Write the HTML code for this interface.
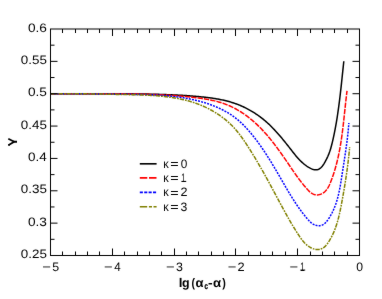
<!DOCTYPE html>
<html><head><meta charset="utf-8"><title>chart</title>
<style>html,body{margin:0;padding:0;background:#fff;}svg{display:block;}</style></head>
<body>
<svg width="382" height="299" viewBox="0 0 382 299">
<defs><filter id="soft" color-interpolation-filters="sRGB" x="0" y="0" width="382" height="299" filterUnits="userSpaceOnUse"><feConvolveMatrix order="3" kernelMatrix="0.01 0.04 0.01 0.04 0.8 0.04 0.01 0.04 0.01"/></filter></defs>
<g filter="url(#soft)">
<rect width="382" height="299" fill="#ffffff"/>
<path d="M50.51,93.65 L51.53,93.66 L52.55,93.67 L53.57,93.68 L54.59,93.69 L55.62,93.70 L56.64,93.71 L57.66,93.71 L58.68,93.72 L59.70,93.73 L60.72,93.73 L61.74,93.74 L62.76,93.75 L63.78,93.75 L64.80,93.76 L65.83,93.76 L66.85,93.76 L67.87,93.77 L68.89,93.77 L69.91,93.77 L70.93,93.78 L71.95,93.78 L72.98,93.78 L74.00,93.78 L75.02,93.78 L76.04,93.78 L77.06,93.79 L78.09,93.79 L79.11,93.79 L80.13,93.79 L81.15,93.79 L82.18,93.79 L83.20,93.79 L84.22,93.79 L85.24,93.79 L86.27,93.78 L87.29,93.78 L88.31,93.78 L89.33,93.78 L90.36,93.78 L91.38,93.78 L92.40,93.78 L93.42,93.78 L94.45,93.78 L95.47,93.78 L96.49,93.77 L97.52,93.77 L98.54,93.77 L99.56,93.77 L100.58,93.77 L101.61,93.77 L102.63,93.77 L103.65,93.77 L104.68,93.77 L105.70,93.77 L106.72,93.77 L107.74,93.77 L108.77,93.77 L109.79,93.77 L110.81,93.77 L111.84,93.77 L112.86,93.77 L113.88,93.78 L114.91,93.78 L115.93,93.78 L116.95,93.78 L117.97,93.79 L119.00,93.79 L120.02,93.79 L121.04,93.80 L122.06,93.80 L123.09,93.81 L124.11,93.81 L125.13,93.82 L126.15,93.83 L127.18,93.83 L128.20,93.84 L129.22,93.85 L130.24,93.86 L131.27,93.87 L132.29,93.87 L133.31,93.88 L134.33,93.90 L135.36,93.91 L136.38,93.92 L137.40,93.93 L138.42,93.94 L139.44,93.96 L140.47,93.97 L141.49,93.99 L142.51,94.00 L143.53,94.02 L144.55,94.04 L145.57,94.05 L146.60,94.07 L147.62,94.09 L148.64,94.11 L149.66,94.13 L150.68,94.16 L151.70,94.18 L152.72,94.20 L153.74,94.23 L154.76,94.25 L155.78,94.28 L156.80,94.30 L157.83,94.33 L158.85,94.36 L159.87,94.39 L160.89,94.42 L161.91,94.45 L162.93,94.49 L163.95,94.52 L164.97,94.56 L165.99,94.59 L167.00,94.63 L168.02,94.67 L169.04,94.71 L170.06,94.75 L171.08,94.79 L172.10,94.83 L173.12,94.88 L174.14,94.93 L175.16,94.97 L176.18,95.02 L177.20,95.07 L178.22,95.13 L179.24,95.18 L180.26,95.24 L181.28,95.30 L182.29,95.36 L183.31,95.42 L184.33,95.48 L185.35,95.55 L186.37,95.61 L187.39,95.68 L188.41,95.75 L189.43,95.83 L190.45,95.90 L191.47,95.98 L192.49,96.06 L193.51,96.14 L194.53,96.23 L195.55,96.32 L196.57,96.40 L197.59,96.50 L198.61,96.59 L199.63,96.69 L200.65,96.79 L201.68,96.89 L202.70,96.99 L203.72,97.10 L204.74,97.21 L205.76,97.33 L206.78,97.45 L207.80,97.57 L208.82,97.70 L209.83,97.83 L210.85,97.97 L211.87,98.11 L212.88,98.26 L213.90,98.41 L214.91,98.57 L215.92,98.74 L216.93,98.91 L217.94,99.09 L218.94,99.27 L219.95,99.47 L220.95,99.67 L221.95,99.87 L222.95,100.09 L223.95,100.31 L224.94,100.54 L225.93,100.78 L226.92,101.03 L227.91,101.29 L228.89,101.55 L229.87,101.83 L230.85,102.12 L231.82,102.41 L232.79,102.72 L233.76,103.04 L234.72,103.36 L235.69,103.70 L236.64,104.05 L237.60,104.41 L238.55,104.78 L239.49,105.16 L240.43,105.55 L241.37,105.96 L242.31,106.37 L243.23,106.79 L244.16,107.23 L245.08,107.67 L245.99,108.13 L246.90,108.59 L247.81,109.07 L248.71,109.55 L249.61,110.05 L250.50,110.55 L251.38,111.06 L252.26,111.58 L253.13,112.12 L254.00,112.66 L254.86,113.21 L255.72,113.77 L256.57,114.34 L257.42,114.91 L258.26,115.50 L259.09,116.10 L259.91,116.70 L260.73,117.31 L261.54,117.93 L262.35,118.56 L263.15,119.20 L263.94,119.84 L264.73,120.50 L265.50,121.16 L266.27,121.83 L267.04,122.51 L267.80,123.19 L268.55,123.88 L269.29,124.58 L270.03,125.28 L270.76,126.00 L271.48,126.71 L272.20,127.44 L272.92,128.17 L273.63,128.90 L274.33,129.64 L275.03,130.39 L275.72,131.14 L276.41,131.89 L277.09,132.66 L277.77,133.42 L278.45,134.19 L279.12,134.96 L279.79,135.74 L280.45,136.52 L281.11,137.30 L281.77,138.08 L282.42,138.87 L283.07,139.66 L283.72,140.46 L284.37,141.25 L285.01,142.05 L285.65,142.85 L286.29,143.65 L286.92,144.45 L287.56,145.25 L288.19,146.06 L288.82,146.86 L289.45,147.66 L290.08,148.47 L290.71,149.27 L291.34,150.08 L291.97,150.88 L292.59,151.68 L293.22,152.48 L293.85,153.28 L294.49,154.07 L295.13,154.86 L295.78,155.65 L296.43,156.42 L297.10,157.20 L297.77,157.96 L298.45,158.71 L299.15,159.46 L299.86,160.20 L300.58,160.92 L301.32,161.64 L302.07,162.34 L302.84,163.03 L303.63,163.71 L304.44,164.37 L305.27,165.02 L306.12,165.65 L306.99,166.26 L307.88,166.85 L308.80,167.42 L309.72,167.94 L310.65,168.42 L311.59,168.84 L312.53,169.19 L313.47,169.48 L314.40,169.69 L315.31,169.80 L316.22,169.82 L317.10,169.74 L317.96,169.54 L318.79,169.22 L319.59,168.77 L320.36,168.20 L321.10,167.53 L321.81,166.77 L322.49,165.93 L323.14,165.04 L323.76,164.10 L324.35,163.13 L324.92,162.15 L325.46,161.17 L325.97,160.20 L326.46,159.24 L326.92,158.31 L327.36,157.38 L327.79,156.46 L328.19,155.54 L328.57,154.62 L328.94,153.69 L329.29,152.76 L329.63,151.82 L329.95,150.87 L330.26,149.91 L330.56,148.95 L330.85,147.98 L331.12,147.00 L331.39,146.02 L331.65,145.04 L331.90,144.05 L332.15,143.07 L332.38,142.07 L332.62,141.08 L332.85,140.08 L333.07,139.09 L333.29,138.09 L333.51,137.10 L333.73,136.10 L333.94,135.10 L334.15,134.10 L334.35,133.10 L334.55,132.10 L334.75,131.10 L334.94,130.10 L335.14,129.09 L335.32,128.09 L335.51,127.09 L335.69,126.08 L335.87,125.08 L336.05,124.07 L336.23,123.07 L336.40,122.06 L336.57,121.05 L336.73,120.04 L336.90,119.04 L337.06,118.03 L337.22,117.02 L337.37,116.01 L337.53,115.00 L337.68,113.99 L337.83,112.98 L337.98,111.97 L338.12,110.96 L338.27,109.94 L338.41,108.93 L338.55,107.92 L338.69,106.91 L338.82,105.89 L338.96,104.88 L339.09,103.87 L339.22,102.85 L339.35,101.84 L339.48,100.83 L339.60,99.81 L339.73,98.80 L339.85,97.78 L339.97,96.77 L340.09,95.75 L340.21,94.74 L340.33,93.72 L340.45,92.70 L340.56,91.69 L340.68,90.67 L340.79,89.66 L340.91,88.64 L341.02,87.62 L341.13,86.61 L341.24,85.59 L341.35,84.57 L341.46,83.56 L341.57,82.54 L341.68,81.53 L341.79,80.51 L341.89,79.49 L342.00,78.48 L342.11,77.46 L342.21,76.45 L342.32,75.43 L342.43,74.41 L342.53,73.40 L342.64,72.38 L342.75,71.37 L342.85,70.35 L342.96,69.34 L343.07,68.32 L343.17,67.31 L343.28,66.29 L343.39,65.28 L343.50,64.26 L343.61,63.25 L343.71,62.24 L343.82,61.22" fill="none" stroke="#000000" stroke-width="1.5" stroke-linejoin="round"/>
<path d="M50.52,93.61 L51.57,93.63 L52.62,93.65 L53.67,93.66 L54.72,93.68 L55.77,93.69 L56.83,93.71 L57.88,93.72 L58.93,93.73 L59.98,93.74 L61.03,93.76 L62.08,93.77 L63.13,93.77 L64.19,93.78 L65.24,93.79 L66.29,93.80 L67.34,93.80 L68.40,93.81 L69.45,93.81 L70.50,93.82 L71.55,93.82 L72.61,93.83 L73.66,93.83 L74.71,93.83 L75.77,93.83 L76.82,93.84 L77.87,93.84 L78.93,93.84 L79.98,93.84 L81.03,93.84 L82.09,93.84 L83.14,93.84 L84.20,93.84 L85.25,93.84 L86.30,93.84 L87.36,93.83 L88.41,93.83 L89.47,93.83 L90.52,93.83 L91.58,93.83 L92.63,93.83 L93.68,93.82 L94.74,93.82 L95.79,93.82 L96.85,93.82 L97.90,93.82 L98.96,93.81 L100.01,93.81 L101.07,93.81 L102.12,93.81 L103.18,93.81 L104.23,93.81 L105.29,93.81 L106.34,93.81 L107.39,93.81 L108.45,93.81 L109.50,93.81 L110.56,93.81 L111.61,93.81 L112.67,93.82 L113.72,93.82 L114.78,93.82 L115.83,93.82 L116.89,93.83 L117.94,93.83 L119.00,93.84 L120.05,93.84 L121.10,93.85 L122.16,93.86 L123.21,93.87 L124.27,93.87 L125.32,93.88 L126.38,93.89 L127.43,93.90 L128.48,93.92 L129.54,93.93 L130.59,93.94 L131.65,93.96 L132.70,93.97 L133.75,93.99 L134.81,94.00 L135.86,94.02 L136.91,94.04 L137.97,94.06 L139.02,94.08 L140.07,94.11 L141.13,94.13 L142.18,94.15 L143.23,94.18 L144.28,94.21 L145.34,94.23 L146.39,94.26 L147.44,94.29 L148.49,94.33 L149.55,94.36 L150.60,94.39 L151.65,94.43 L152.70,94.47 L153.75,94.51 L154.80,94.55 L155.85,94.59 L156.91,94.63 L157.96,94.68 L159.01,94.72 L160.06,94.77 L161.11,94.82 L162.16,94.87 L163.21,94.92 L164.26,94.98 L165.31,95.03 L166.36,95.09 L167.40,95.15 L168.45,95.21 L169.50,95.28 L170.55,95.34 L171.60,95.41 L172.65,95.48 L173.70,95.55 L174.74,95.62 L175.79,95.70 L176.84,95.77 L177.89,95.85 L178.93,95.94 L179.98,96.02 L181.03,96.11 L182.07,96.20 L183.12,96.29 L184.17,96.38 L185.22,96.48 L186.26,96.58 L187.31,96.69 L188.36,96.80 L189.40,96.91 L190.45,97.02 L191.50,97.14 L192.55,97.26 L193.59,97.38 L194.64,97.51 L195.69,97.64 L196.74,97.78 L197.79,97.92 L198.83,98.06 L199.88,98.21 L200.93,98.36 L201.98,98.51 L203.03,98.67 L204.08,98.84 L205.13,99.01 L206.17,99.19 L207.22,99.37 L208.26,99.56 L209.30,99.76 L210.34,99.96 L211.38,100.18 L212.42,100.40 L213.45,100.63 L214.48,100.87 L215.51,101.11 L216.53,101.37 L217.55,101.64 L218.57,101.92 L219.58,102.21 L220.59,102.51 L221.59,102.82 L222.59,103.15 L223.59,103.49 L224.58,103.84 L225.56,104.20 L226.54,104.58 L227.51,104.97 L228.47,105.37 L229.43,105.78 L230.39,106.21 L231.34,106.65 L232.28,107.10 L233.22,107.57 L234.15,108.04 L235.07,108.53 L235.99,109.03 L236.91,109.54 L237.82,110.06 L238.72,110.59 L239.62,111.14 L240.51,111.69 L241.39,112.25 L242.27,112.83 L243.14,113.41 L244.01,114.00 L244.87,114.60 L245.72,115.22 L246.57,115.84 L247.42,116.47 L248.25,117.10 L249.08,117.75 L249.91,118.40 L250.73,119.07 L251.54,119.74 L252.34,120.42 L253.14,121.10 L253.94,121.80 L254.72,122.50 L255.50,123.21 L256.28,123.92 L257.05,124.64 L257.81,125.37 L258.57,126.10 L259.32,126.84 L260.06,127.59 L260.80,128.34 L261.53,129.10 L262.26,129.86 L262.98,130.63 L263.70,131.40 L264.41,132.18 L265.11,132.97 L265.81,133.76 L266.51,134.55 L267.20,135.35 L267.89,136.15 L268.57,136.96 L269.24,137.77 L269.92,138.58 L270.58,139.40 L271.25,140.22 L271.91,141.05 L272.56,141.88 L273.22,142.71 L273.86,143.55 L274.51,144.39 L275.15,145.23 L275.79,146.07 L276.42,146.92 L277.05,147.77 L277.68,148.62 L278.30,149.47 L278.93,150.33 L279.54,151.18 L280.16,152.04 L280.77,152.90 L281.39,153.76 L281.99,154.63 L282.60,155.49 L283.20,156.36 L283.81,157.22 L284.41,158.09 L285.00,158.95 L285.60,159.82 L286.20,160.69 L286.79,161.56 L287.38,162.42 L287.97,163.29 L288.56,164.16 L289.15,165.02 L289.73,165.89 L290.32,166.75 L290.91,167.62 L291.49,168.48 L292.08,169.34 L292.67,170.20 L293.26,171.06 L293.86,171.92 L294.45,172.78 L295.05,173.63 L295.65,174.49 L296.26,175.34 L296.87,176.19 L297.48,177.04 L298.10,177.89 L298.73,178.74 L299.36,179.58 L299.99,180.42 L300.64,181.27 L301.29,182.10 L301.95,182.94 L302.61,183.77 L303.29,184.61 L303.97,185.43 L304.66,186.26 L305.36,187.08 L306.07,187.91 L306.80,188.72 L307.53,189.54 L308.28,190.34 L309.04,191.11 L309.83,191.84 L310.65,192.52 L311.49,193.14 L312.37,193.69 L313.28,194.15 L314.23,194.51 L315.23,194.77 L316.28,194.90 L317.38,194.90 L318.49,194.77 L319.56,194.56 L320.57,194.26 L321.52,193.89 L322.42,193.44 L323.26,192.93 L324.05,192.36 L324.79,191.72 L325.49,191.03 L326.15,190.29 L326.76,189.51 L327.34,188.68 L327.89,187.82 L328.41,186.92 L328.90,185.99 L329.37,185.04 L329.81,184.06 L330.23,183.07 L330.64,182.07 L331.04,181.06 L331.42,180.04 L331.80,179.02 L332.17,178.01 L332.53,176.99 L332.88,175.97 L333.23,174.95 L333.56,173.94 L333.89,172.92 L334.22,171.90 L334.53,170.88 L334.84,169.86 L335.14,168.84 L335.44,167.81 L335.72,166.79 L336.00,165.77 L336.28,164.75 L336.55,163.72 L336.81,162.70 L337.07,161.67 L337.32,160.65 L337.56,159.62 L337.80,158.60 L338.03,157.57 L338.26,156.55 L338.49,155.52 L338.70,154.49 L338.91,153.46 L339.12,152.43 L339.32,151.40 L339.52,150.38 L339.72,149.35 L339.90,148.31 L340.09,147.28 L340.27,146.25 L340.45,145.22 L340.62,144.19 L340.79,143.15 L340.95,142.12 L341.11,141.09 L341.27,140.05 L341.42,139.02 L341.57,137.98 L341.72,136.94 L341.87,135.91 L342.01,134.87 L342.15,133.83 L342.29,132.79 L342.42,131.76 L342.55,130.72 L342.68,129.68 L342.81,128.64 L342.93,127.60 L343.06,126.55 L343.18,125.51 L343.30,124.47 L343.42,123.43 L343.54,122.38 L343.65,121.34 L343.77,120.30 L343.88,119.25 L344.00,118.20 L344.11,117.16 L344.22,116.11 L344.33,115.07 L344.44,114.02 L344.55,112.97 L344.66,111.92 L344.77,110.87 L344.88,109.82 L345.00,108.77 L345.11,107.72 L345.22,106.67 L345.33,105.62 L345.44,104.57 L345.56,103.51 L345.67,102.46 L345.79,101.41 L345.91,100.35 L346.02,99.30 L346.15,98.24 L346.27,97.18 L346.39,96.13 L346.52,95.07 L346.64,94.01 L346.77,92.95 L346.90,91.90 L347.04,90.84" fill="none" stroke="#ff0000" stroke-width="1.5" stroke-dasharray="5.3 1.1" stroke-linejoin="round"/>
<path d="M50.48,93.81 L51.58,93.79 L52.69,93.78 L53.79,93.76 L54.90,93.75 L56.01,93.74 L57.11,93.73 L58.21,93.72 L59.32,93.71 L60.42,93.70 L61.53,93.70 L62.63,93.69 L63.73,93.69 L64.84,93.68 L65.94,93.68 L67.04,93.68 L68.14,93.68 L69.24,93.68 L70.34,93.68 L71.45,93.68 L72.55,93.68 L73.65,93.69 L74.75,93.69 L75.85,93.69 L76.95,93.70 L78.05,93.71 L79.15,93.71 L80.25,93.72 L81.35,93.73 L82.45,93.74 L83.55,93.75 L84.65,93.76 L85.74,93.77 L86.84,93.78 L87.94,93.79 L89.04,93.80 L90.14,93.81 L91.24,93.82 L92.34,93.84 L93.44,93.85 L94.54,93.86 L95.63,93.88 L96.73,93.89 L97.83,93.91 L98.93,93.92 L100.03,93.94 L101.13,93.95 L102.23,93.97 L103.33,93.98 L104.43,94.00 L105.52,94.01 L106.62,94.03 L107.72,94.05 L108.82,94.06 L109.92,94.08 L111.02,94.09 L112.12,94.11 L113.22,94.13 L114.32,94.14 L115.42,94.16 L116.52,94.18 L117.62,94.19 L118.73,94.21 L119.83,94.22 L120.93,94.24 L122.03,94.25 L123.13,94.27 L124.23,94.28 L125.34,94.30 L126.44,94.31 L127.54,94.33 L128.65,94.34 L129.75,94.36 L130.85,94.37 L131.96,94.39 L133.06,94.40 L134.16,94.42 L135.27,94.44 L136.37,94.45 L137.48,94.47 L138.58,94.49 L139.68,94.52 L140.79,94.54 L141.89,94.56 L143.00,94.59 L144.10,94.62 L145.20,94.65 L146.31,94.68 L147.41,94.72 L148.51,94.75 L149.61,94.79 L150.72,94.83 L151.82,94.88 L152.92,94.92 L154.02,94.97 L155.12,95.03 L156.22,95.08 L157.32,95.14 L158.42,95.20 L159.52,95.27 L160.62,95.34 L161.72,95.41 L162.82,95.49 L163.92,95.57 L165.01,95.66 L166.11,95.74 L167.21,95.84 L168.30,95.94 L169.39,96.04 L170.49,96.15 L171.58,96.26 L172.67,96.38 L173.76,96.50 L174.86,96.63 L175.95,96.76 L177.03,96.90 L178.12,97.04 L179.21,97.19 L180.30,97.35 L181.38,97.51 L182.47,97.67 L183.55,97.85 L184.63,98.03 L185.71,98.21 L186.79,98.41 L187.87,98.61 L188.95,98.81 L190.03,99.03 L191.11,99.25 L192.18,99.47 L193.25,99.71 L194.33,99.95 L195.40,100.20 L196.47,100.45 L197.54,100.72 L198.61,100.99 L199.67,101.27 L200.74,101.56 L201.80,101.86 L202.86,102.16 L203.92,102.48 L204.98,102.80 L206.03,103.13 L207.09,103.47 L208.13,103.82 L209.18,104.18 L210.22,104.55 L211.26,104.93 L212.30,105.31 L213.33,105.71 L214.36,106.12 L215.38,106.53 L216.39,106.96 L217.41,107.40 L218.41,107.85 L219.41,108.31 L220.41,108.78 L221.40,109.26 L222.38,109.75 L223.36,110.25 L224.33,110.76 L225.29,111.29 L226.25,111.83 L227.20,112.38 L228.14,112.94 L229.07,113.51 L230.00,114.10 L230.91,114.70 L231.82,115.31 L232.72,115.93 L233.61,116.56 L234.49,117.21 L235.36,117.87 L236.22,118.55 L237.07,119.24 L237.92,119.94 L238.75,120.65 L239.57,121.37 L240.39,122.11 L241.20,122.85 L241.99,123.61 L242.78,124.38 L243.56,125.15 L244.34,125.94 L245.10,126.73 L245.86,127.53 L246.61,128.34 L247.36,129.16 L248.09,129.98 L248.82,130.81 L249.55,131.65 L250.27,132.49 L250.98,133.34 L251.68,134.19 L252.38,135.05 L253.07,135.91 L253.76,136.78 L254.44,137.65 L255.12,138.52 L255.79,139.39 L256.46,140.27 L257.12,141.16 L257.78,142.04 L258.43,142.93 L259.08,143.83 L259.72,144.72 L260.36,145.62 L260.99,146.52 L261.62,147.43 L262.25,148.34 L262.87,149.25 L263.48,150.16 L264.10,151.07 L264.71,151.99 L265.31,152.91 L265.92,153.83 L266.51,154.76 L267.11,155.68 L267.70,156.61 L268.29,157.54 L268.88,158.47 L269.46,159.40 L270.04,160.34 L270.62,161.28 L271.19,162.21 L271.77,163.15 L272.34,164.09 L272.90,165.03 L273.47,165.98 L274.03,166.92 L274.59,167.87 L275.15,168.81 L275.71,169.76 L276.26,170.70 L276.82,171.65 L277.37,172.60 L277.92,173.55 L278.47,174.50 L279.02,175.45 L279.57,176.40 L280.11,177.34 L280.66,178.29 L281.20,179.24 L281.75,180.19 L282.29,181.14 L282.84,182.09 L283.39,183.04 L283.93,183.98 L284.48,184.93 L285.03,185.88 L285.58,186.82 L286.13,187.77 L286.68,188.71 L287.23,189.66 L287.79,190.60 L288.35,191.54 L288.91,192.48 L289.48,193.42 L290.05,194.36 L290.62,195.29 L291.19,196.23 L291.77,197.16 L292.35,198.09 L292.94,199.02 L293.53,199.95 L294.13,200.87 L294.73,201.80 L295.33,202.72 L295.94,203.64 L296.56,204.56 L297.18,205.47 L297.81,206.39 L298.45,207.30 L299.09,208.21 L299.74,209.11 L300.39,210.02 L301.05,210.92 L301.72,211.81 L302.40,212.71 L303.08,213.60 L303.78,214.49 L304.48,215.37 L305.19,216.26 L305.90,217.14 L306.63,218.01 L307.37,218.88 L308.12,219.74 L308.89,220.57 L309.67,221.37 L310.48,222.13 L311.32,222.83 L312.18,223.48 L313.08,224.07 L314.01,224.58 L314.98,225.00 L315.99,225.33 L317.02,225.56 L318.07,225.70 L319.12,225.72 L320.16,225.63 L321.17,225.43 L322.14,225.11 L323.06,224.67 L323.93,224.10 L324.76,223.44 L325.53,222.69 L326.27,221.88 L326.97,221.01 L327.64,220.11 L328.29,219.18 L328.92,218.25 L329.52,217.31 L330.10,216.36 L330.67,215.41 L331.21,214.44 L331.73,213.47 L332.24,212.49 L332.72,211.50 L333.19,210.51 L333.64,209.51 L334.07,208.50 L334.49,207.49 L334.89,206.47 L335.28,205.44 L335.65,204.41 L336.01,203.38 L336.35,202.34 L336.68,201.29 L337.00,200.24 L337.30,199.19 L337.60,198.13 L337.88,197.06 L338.15,196.00 L338.41,194.93 L338.66,193.85 L338.90,192.78 L339.14,191.70 L339.36,190.62 L339.58,189.53 L339.79,188.45 L340.00,187.36 L340.20,186.27 L340.39,185.18 L340.58,184.08 L340.76,182.99 L340.94,181.90 L341.12,180.80 L341.29,179.70 L341.46,178.61 L341.63,177.51 L341.80,176.42 L341.97,175.32 L342.13,174.23 L342.30,173.14 L342.47,172.04 L342.64,170.95 L342.80,169.86 L342.97,168.77 L343.14,167.69 L343.31,166.60 L343.48,165.51 L343.65,164.43 L343.82,163.34 L343.98,162.26 L344.15,161.17 L344.32,160.09 L344.48,159.00 L344.65,157.92 L344.81,156.84 L344.98,155.75 L345.14,154.67 L345.30,153.59 L345.46,152.51 L345.62,151.42 L345.78,150.34 L345.93,149.25 L346.08,148.17 L346.24,147.08 L346.38,146.00 L346.53,144.91 L346.68,143.83 L346.82,142.74 L346.96,141.65 L347.10,140.56 L347.23,139.47 L347.37,138.38 L347.50,137.28 L347.62,136.19 L347.75,135.09 L347.87,134.00 L347.98,132.90 L348.10,131.80 L348.21,130.70 L348.31,129.60 L348.41,128.49 L348.51,127.39 L348.61,126.28 L348.70,125.17 L348.79,124.05 L348.87,122.94" fill="none" stroke="#0000ff" stroke-width="1.5" stroke-dasharray="2.0 1.15" stroke-linejoin="round"/>
<path d="M50.41,93.85 L51.57,93.83 L52.73,93.81 L53.89,93.79 L55.04,93.77 L56.20,93.75 L57.35,93.74 L58.50,93.73 L59.65,93.72 L60.80,93.71 L61.94,93.70 L63.09,93.69 L64.24,93.68 L65.38,93.68 L66.52,93.68 L67.67,93.68 L68.81,93.67 L69.95,93.68 L71.09,93.68 L72.23,93.68 L73.36,93.69 L74.50,93.69 L75.64,93.70 L76.77,93.70 L77.91,93.71 L79.04,93.72 L80.18,93.73 L81.31,93.74 L82.44,93.76 L83.58,93.77 L84.71,93.78 L85.84,93.80 L86.97,93.81 L88.11,93.83 L89.24,93.85 L90.37,93.87 L91.50,93.88 L92.63,93.90 L93.76,93.92 L94.89,93.94 L96.02,93.96 L97.15,93.98 L98.28,94.01 L99.41,94.03 L100.54,94.05 L101.67,94.07 L102.81,94.10 L103.94,94.12 L105.07,94.14 L106.20,94.17 L107.33,94.19 L108.46,94.22 L109.60,94.24 L110.73,94.26 L111.87,94.29 L113.00,94.31 L114.13,94.34 L115.27,94.36 L116.41,94.39 L117.54,94.41 L118.68,94.44 L119.82,94.46 L120.96,94.49 L122.10,94.51 L123.24,94.53 L124.38,94.56 L125.52,94.58 L126.67,94.60 L127.81,94.63 L128.96,94.65 L130.10,94.68 L131.25,94.70 L132.40,94.73 L133.54,94.75 L134.69,94.78 L135.84,94.81 L136.99,94.84 L138.14,94.87 L139.29,94.91 L140.43,94.94 L141.58,94.98 L142.73,95.02 L143.88,95.07 L145.03,95.11 L146.18,95.16 L147.32,95.22 L148.47,95.27 L149.62,95.33 L150.76,95.39 L151.91,95.46 L153.05,95.53 L154.20,95.61 L155.34,95.69 L156.48,95.77 L157.63,95.86 L158.77,95.96 L159.90,96.06 L161.04,96.17 L162.18,96.28 L163.31,96.39 L164.45,96.52 L165.58,96.64 L166.71,96.78 L167.84,96.92 L168.97,97.07 L170.10,97.23 L171.22,97.39 L172.34,97.56 L173.46,97.73 L174.58,97.92 L175.70,98.11 L176.81,98.31 L177.92,98.52 L179.03,98.74 L180.14,98.96 L181.25,99.20 L182.35,99.44 L183.45,99.69 L184.55,99.95 L185.64,100.22 L186.73,100.50 L187.82,100.79 L188.91,101.09 L189.99,101.40 L191.07,101.72 L192.15,102.05 L193.23,102.39 L194.30,102.75 L195.36,103.11 L196.43,103.49 L197.49,103.87 L198.55,104.27 L199.60,104.68 L200.65,105.10 L201.70,105.53 L202.74,105.98 L203.78,106.44 L204.81,106.91 L205.84,107.39 L206.87,107.88 L207.88,108.39 L208.90,108.90 L209.91,109.43 L210.91,109.97 L211.91,110.52 L212.90,111.09 L213.88,111.66 L214.86,112.25 L215.83,112.85 L216.79,113.45 L217.74,114.08 L218.69,114.71 L219.63,115.35 L220.57,116.01 L221.49,116.67 L222.41,117.35 L223.31,118.04 L224.21,118.74 L225.10,119.45 L225.98,120.17 L226.85,120.91 L227.71,121.65 L228.56,122.41 L229.41,123.18 L230.24,123.95 L231.06,124.74 L231.87,125.54 L232.66,126.35 L233.45,127.18 L234.23,128.01 L234.99,128.85 L235.74,129.71 L236.48,130.57 L237.21,131.44 L237.93,132.33 L238.64,133.22 L239.34,134.12 L240.03,135.03 L240.72,135.94 L241.39,136.87 L242.06,137.79 L242.72,138.73 L243.37,139.67 L244.02,140.61 L244.66,141.56 L245.30,142.51 L245.93,143.46 L246.56,144.42 L247.18,145.37 L247.80,146.33 L248.42,147.29 L249.04,148.26 L249.65,149.22 L250.26,150.18 L250.87,151.15 L251.47,152.12 L252.07,153.09 L252.67,154.06 L253.26,155.03 L253.86,156.00 L254.45,156.98 L255.03,157.95 L255.62,158.93 L256.20,159.90 L256.78,160.88 L257.36,161.86 L257.94,162.84 L258.51,163.82 L259.08,164.81 L259.65,165.79 L260.22,166.78 L260.79,167.76 L261.35,168.75 L261.91,169.74 L262.47,170.73 L263.03,171.72 L263.59,172.71 L264.15,173.70 L264.70,174.69 L265.25,175.68 L265.80,176.68 L266.35,177.67 L266.90,178.67 L267.45,179.66 L267.99,180.66 L268.54,181.66 L269.08,182.65 L269.63,183.65 L270.17,184.65 L270.71,185.65 L271.25,186.65 L271.79,187.65 L272.33,188.66 L272.86,189.66 L273.40,190.66 L273.94,191.66 L274.47,192.67 L275.01,193.67 L275.55,194.67 L276.08,195.68 L276.62,196.68 L277.15,197.69 L277.69,198.69 L278.23,199.70 L278.76,200.70 L279.30,201.70 L279.84,202.71 L280.38,203.71 L280.92,204.71 L281.46,205.72 L282.00,206.72 L282.54,207.72 L283.09,208.72 L283.63,209.72 L284.18,210.72 L284.73,211.72 L285.28,212.71 L285.83,213.71 L286.39,214.70 L286.95,215.70 L287.51,216.69 L288.07,217.68 L288.63,218.67 L289.20,219.66 L289.77,220.64 L290.34,221.63 L290.92,222.61 L291.50,223.59 L292.08,224.57 L292.67,225.55 L293.25,226.53 L293.85,227.50 L294.44,228.47 L295.04,229.44 L295.65,230.41 L296.25,231.37 L296.87,232.34 L297.48,233.30 L298.10,234.25 L298.73,235.21 L299.36,236.16 L300.00,237.10 L300.65,238.04 L301.32,238.96 L302.00,239.86 L302.71,240.75 L303.43,241.62 L304.19,242.46 L304.97,243.28 L305.78,244.07 L306.63,244.83 L307.51,245.55 L308.44,246.23 L309.41,246.88 L310.41,247.48 L311.46,248.02 L312.53,248.49 L313.62,248.89 L314.73,249.21 L315.85,249.43 L316.97,249.54 L318.09,249.54 L319.19,249.42 L320.28,249.18 L321.34,248.82 L322.36,248.35 L323.34,247.79 L324.26,247.13 L325.12,246.39 L325.92,245.57 L326.65,244.69 L327.34,243.78 L328.00,242.83 L328.63,241.88 L329.25,240.91 L329.84,239.94 L330.41,238.96 L330.97,237.97 L331.50,236.97 L332.02,235.96 L332.52,234.94 L333.00,233.92 L333.47,232.89 L333.91,231.85 L334.35,230.81 L334.76,229.76 L335.17,228.70 L335.56,227.63 L335.93,226.57 L336.29,225.49 L336.64,224.41 L336.98,223.33 L337.31,222.24 L337.62,221.15 L337.93,220.05 L338.22,218.95 L338.51,217.84 L338.78,216.74 L339.05,215.63 L339.31,214.51 L339.57,213.40 L339.81,212.28 L340.05,211.16 L340.29,210.04 L340.52,208.92 L340.74,207.79 L340.96,206.67 L341.18,205.55 L341.39,204.42 L341.61,203.30 L341.82,202.17 L342.02,201.05 L342.23,199.92 L342.44,198.80 L342.64,197.68 L342.84,196.56 L343.04,195.44 L343.24,194.32 L343.44,193.19 L343.63,192.07 L343.82,190.95 L344.02,189.83 L344.21,188.71 L344.39,187.59 L344.58,186.47 L344.76,185.35 L344.95,184.23 L345.13,183.11 L345.30,181.99 L345.48,180.87 L345.65,179.75 L345.82,178.63 L345.99,177.51 L346.16,176.39 L346.33,175.27 L346.49,174.15 L346.65,173.02 L346.81,171.90 L346.97,170.78 L347.12,169.65 L347.27,168.53 L347.42,167.40 L347.57,166.27 L347.71,165.15 L347.85,164.02 L347.99,162.89 L348.13,161.76 L348.26,160.63 L348.39,159.50 L348.52,158.36 L348.65,157.23 L348.77,156.09 L348.89,154.96 L349.01,153.82 L349.13,152.68 L349.24,151.54 L349.35,150.40 L349.45,149.26 L349.56,148.11 L349.66,146.97" fill="none" stroke="#808000" stroke-width="1.5" stroke-dasharray="4.3 1.1 1.7 1.0" stroke-linejoin="round"/>
<rect x="50.5" y="29.0" width="309.0" height="226.5" fill="none" stroke="#000" stroke-width="1"/>
<path d="M62.50,255.5v-4M62.50,29.0v4M75.50,255.5v-4M75.50,29.0v4M87.50,255.5v-4M87.50,29.0v4M99.50,255.5v-4M99.50,29.0v4M112.50,255.5v-7M112.50,29.0v7M124.50,255.5v-4M124.50,29.0v4M137.50,255.5v-4M137.50,29.0v4M149.50,255.5v-4M149.50,29.0v4M161.50,255.5v-4M161.50,29.0v4M174.50,255.5v-7M174.50,29.0v7M186.50,255.5v-4M186.50,29.0v4M198.50,255.5v-4M198.50,29.0v4M211.50,255.5v-4M211.50,29.0v4M223.50,255.5v-4M223.50,29.0v4M235.50,255.5v-7M235.50,29.0v7M248.50,255.5v-4M248.50,29.0v4M260.50,255.5v-4M260.50,29.0v4M272.50,255.5v-4M272.50,29.0v4M285.50,255.5v-4M285.50,29.0v4M297.50,255.5v-7M297.50,29.0v7M310.50,255.5v-4M310.50,29.0v4M322.50,255.5v-4M322.50,29.0v4M334.50,255.5v-4M334.50,29.0v4M347.50,255.5v-4M347.50,29.0v4M50.5,45.18h4M359.5,45.18h-4M50.5,61.36h7M359.5,61.36h-7M50.5,77.54h4M359.5,77.54h-4M50.5,93.71h7M359.5,93.71h-7M50.5,109.89h4M359.5,109.89h-4M50.5,126.07h7M359.5,126.07h-7M50.5,142.25h4M359.5,142.25h-4M50.5,158.43h7M359.5,158.43h-7M50.5,174.61h4M359.5,174.61h-4M50.5,190.79h7M359.5,190.79h-7M50.5,206.96h4M359.5,206.96h-4M50.5,223.14h7M359.5,223.14h-7M50.5,239.32h4M359.5,239.32h-4" stroke="#000" stroke-width="1" fill="none"/>
<g font-family="'Liberation Sans', sans-serif" fill="#000" text-rendering="geometricPrecision">
<text transform="translate(27.92,31.60) scale(1.1191,1)" font-size="12.2">0.6</text>
<text transform="translate(20.83,63.96) scale(1.0976,1)" font-size="12.2">0.55</text>
<text transform="translate(27.92,96.31) scale(1.1191,1)" font-size="12.2">0.5</text>
<text transform="translate(20.83,128.67) scale(1.0976,1)" font-size="12.2">0.45</text>
<text transform="translate(27.93,161.03) scale(1.1060,1)" font-size="12.2">0.4</text>
<text transform="translate(20.83,193.39) scale(1.0976,1)" font-size="12.2">0.35</text>
<text transform="translate(27.92,225.74) scale(1.1191,1)" font-size="12.2">0.3</text>
<text transform="translate(20.83,258.10) scale(1.0976,1)" font-size="12.2">0.25</text>
<text transform="translate(42.31,270.60) scale(1.2131,1)" font-size="12.2">−</text>
<text transform="translate(52.31,270.60) scale(1.0153,1)" font-size="12.2">5</text>
<text transform="translate(104.11,270.60) scale(1.2131,1)" font-size="12.2">−</text>
<text transform="translate(114.32,270.60) scale(0.9538,1)" font-size="12.2">4</text>
<text transform="translate(165.91,270.60) scale(1.2131,1)" font-size="12.2">−</text>
<text transform="translate(175.91,270.60) scale(1.0153,1)" font-size="12.2">3</text>
<text transform="translate(227.71,270.60) scale(1.2131,1)" font-size="12.2">−</text>
<text transform="translate(237.50,270.60) scale(1.0492,1)" font-size="12.2">2</text>
<text transform="translate(289.51,270.60) scale(1.2131,1)" font-size="12.2">−</text>
<text transform="translate(300.13,270.60) scale(0.6150,1)" font-size="12.2">1</text><rect x="300.40" y="269.55" width="4.80" height="1.05" fill="#000"/>
<text transform="translate(356.32,270.50) scale(1.0000,1)" font-size="12.2">0</text>
<path d="M139.8,163.8H156.6" stroke="#000000" stroke-width="1.65" fill="none"/>
<text transform="translate(163.31,167.85) scale(0.9045,1)" font-size="12.2">κ</text>
<text transform="translate(170.22,168.20) scale(1.1803,1)" font-size="12.2">=</text>
<text transform="translate(180.63,167.85) scale(0.9672,1)" font-size="12.2">0</text>
<path d="M139.8,177.9H156.6" stroke="#ff0000" stroke-width="1.65" stroke-dasharray="7.5 1.7" fill="none"/>
<text transform="translate(163.31,181.95) scale(0.9045,1)" font-size="12.2">κ</text>
<text transform="translate(170.22,182.30) scale(1.1803,1)" font-size="12.2">=</text>
<text transform="translate(181.24,181.95) scale(0.5969,1)" font-size="12.2">1</text><rect x="181.50" y="180.90" width="4.70" height="1.05" fill="#000"/>
<path d="M139.8,192.4H156.6" stroke="#0000ff" stroke-width="1.65" stroke-dasharray="3.1 1.3" fill="none"/>
<text transform="translate(163.31,196.45) scale(0.9045,1)" font-size="12.2">κ</text>
<text transform="translate(170.22,196.80) scale(1.1803,1)" font-size="12.2">=</text>
<text transform="translate(180.41,196.45) scale(1.0317,1)" font-size="12.2">2</text>
<path d="M139.8,206.7H156.6" stroke="#808000" stroke-width="1.65" stroke-dasharray="7.4 1.7 3.1 1.5" fill="none"/>
<text transform="translate(163.31,210.75) scale(0.9045,1)" font-size="12.2">κ</text>
<text transform="translate(170.22,211.10) scale(1.1803,1)" font-size="12.2">=</text>
<text transform="translate(180.62,210.75) scale(0.9984,1)" font-size="12.2">3</text>
<text transform="translate(178.66,287.10) scale(1.0667,1)" font-size="12.6" font-weight="bold">l</text>
<text transform="translate(182.01,287.10) scale(0.9851,1)" font-size="12.6" font-weight="bold">g</text>
<text transform="translate(191.61,287.10) scale(0.8287,1)" font-size="12.6" font-weight="bold">(</text>
<text transform="translate(195.59,287.10) scale(1.0296,1)" font-size="12.6" font-weight="bold">α</text>
<text stroke="#000" stroke-width="0.35" transform="translate(204.41,288.90) scale(0.7045,1)" font-size="8.8" font-weight="bold">c</text>
<text transform="translate(208.06,287.10) scale(1.1055,1)" font-size="12.6" font-weight="bold">-</text>
<text transform="translate(213.09,287.10) scale(1.0433,1)" font-size="12.6" font-weight="bold">α</text>
<text transform="translate(222.30,287.10) scale(0.8555,1)" font-size="12.6" font-weight="bold">)</text>
<g stroke="#000" fill="none" stroke-linecap="butt"><path d="M8.3,138.75L14.2,141.75" stroke-width="1.75"/><path d="M8.7,145.0L14.2,141.75" stroke-width="1.75"/><path d="M13.0,141.75H17.0" stroke-width="2.0"/><circle cx="8.9" cy="144.9" r="0.95" fill="#000" stroke="none"/></g>
</g>
</g>
</svg>
</body></html>
